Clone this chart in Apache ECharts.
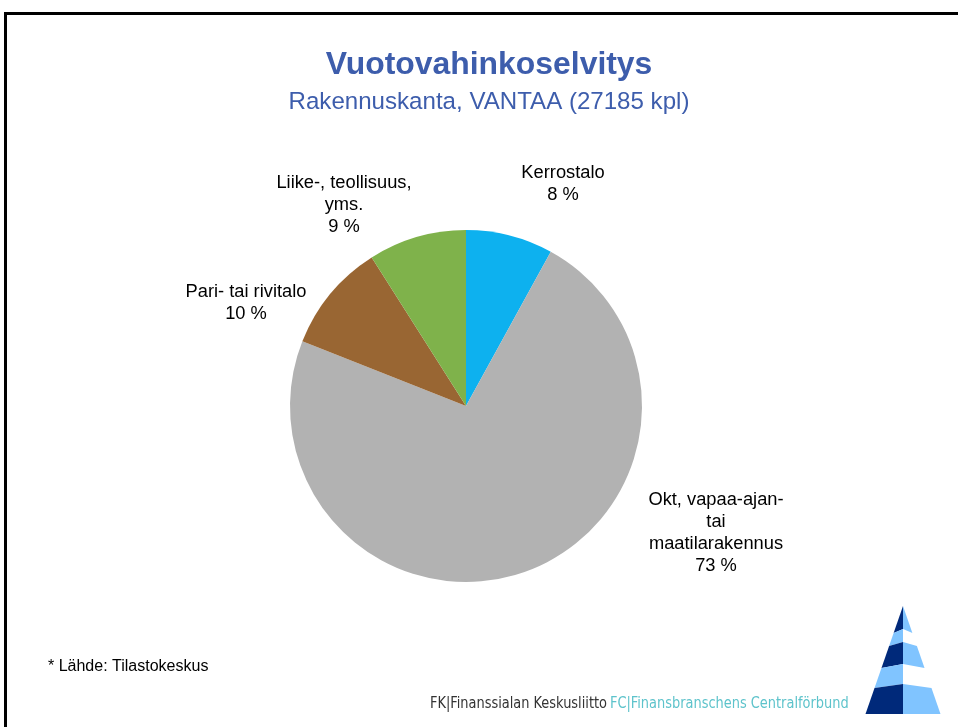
<!DOCTYPE html>
<html>
<head>
<meta charset="utf-8">
<script src="https://cdn.jsdelivr.net/npm/echarts@6/dist/echarts.min.js"></script>
<style>
  html, body { margin: 0; padding: 0; background: #fff; }
  #chart { width: 958px; height: 727px; }
</style>
</head>
<body>
<div id="chart"></div>
<script>
// Building stock by type, Vantaa
const categories = ['Kerrostalo', 'Okt, vapaa-ajan-\ntai\nmaatilarakennus', 'Pari- tai rivitalo', 'Liike-, teollisuus,\nyms.'];
const shares = [8, 73, 10, 9];
const sliceColors = ['#0DB1EF', '#B2B2B2', '#996633', '#7FB24B'];
// label anchor (centre of each label block)
const labelAnchors = [[563, 184], [716, 533], [246, 303], [344, 205]];

const titleText = 'Vuotovahinkoselvitys';
const subtitleText = 'Rakennuskanta, VANTAA (27185 kpl)';
const sourceNote = '* Lähde: Tilastokeskus';

const chart = echarts.init(document.getElementById('chart'), null, { renderer: 'canvas' });

// stylised tree logo: tiers with a dark left half and a light (or missing) right half
const navy = '#00297A', sky = '#80C4FF';
const apex = [903, 606], baseY = 714, halfBase = 37.5;
function edgeX(y, side) {
  return apex[0] + side * halfBase * (y - apex[1]) / (baseY - apex[1]);
}
const tiers = [
  { top: 606, bot: 629, left: navy, right: sky },
  { top: 629, bot: 642, left: sky, right: null },
  { top: 642, bot: 664, left: navy, right: sky },
  { top: 664, bot: 684, left: sky, right: null },
  { top: 684, bot: 714, left: navy, right: sky }
];
const logoParts = [];
tiers.forEach(t => {
  const dt = t.top === apex[1] ? 0 : 4;
  const db = t.bot === baseY ? 0 : 4;
  logoParts.push({
    type: 'polygon', silent: true,
    shape: { points: [[apex[0], t.top], [edgeX(t.top + dt, -1), t.top + dt], [edgeX(t.bot + db, -1), t.bot + db], [apex[0], t.bot]] },
    style: { fill: t.left }
  });
  if (t.right) {
    logoParts.push({
      type: 'polygon', silent: true,
      shape: { points: [[apex[0], t.top], [edgeX(t.top + dt, 1), t.top + dt], [edgeX(t.bot + db, 1), t.bot + db], [apex[0], t.bot]] },
      style: { fill: t.right }
    });
  }
});

const option = {
  backgroundColor: '#ffffff',
  animation: false,
  title: {
    text: titleText,
    subtext: subtitleText,
    left: 484,
    top: 44,
    textAlign: 'center',
    itemGap: 9,
    textStyle: { fontFamily: 'Liberation Sans, Arial, sans-serif', fontSize: 31.9, fontWeight: 'bold', color: '#3D5DAC' },
    subtextStyle: { fontFamily: 'Liberation Sans, Arial, sans-serif', fontSize: 24.1, color: '#3D5DAC' }
  },
  series: [{
    type: 'pie',
    center: [466, 406],
    radius: [0, 176],
    startAngle: 90,
    clockwise: true,
    data: categories.map((name, i) => ({ name, value: shares[i], itemStyle: { color: sliceColors[i] } })),
    label: {
      show: true,
      position: 'outside',
      formatter: p => p.name + '\n' + p.value + ' %',
      fontFamily: 'Liberation Sans, Arial, sans-serif',
      fontSize: 18.3,
      lineHeight: 22,
      color: '#000',
      align: 'center'
    },
    labelLine: { show: false },
    labelLayout: p => ({
      x: labelAnchors[p.dataIndex][0],
      y: labelAnchors[p.dataIndex][1],
      align: 'center',
      verticalAlign: 'middle'
    }),
    emphasis: { disabled: true }
  }],
  graphic: [
    {
      type: 'rect', silent: true,
      shape: { x: 5.5, y: 13.5, width: 1000, height: 1000 },
      style: { fill: 'none', stroke: '#000', lineWidth: 3 }
    },
    {
      type: 'text', silent: true, left: 48, top: 659,
      style: { text: sourceNote, font: '16px "Liberation Sans", Arial, sans-serif', fill: '#000' }
    },
    {
      type: 'text', silent: true, x: 430, y: 704, scaleX: 0.9,
      style: {
        text: '{a|FK|Finanssialan Keskusliitto} {b|FC|Finansbranschens Centralförbund}',
        verticalAlign: 'middle',
        rich: {
          a: { fontFamily: '"DejaVu Sans Condensed", sans-serif', fontSize: 16, fill: '#333333' },
          b: { fontFamily: '"DejaVu Sans Condensed", sans-serif', fontSize: 16, fill: '#5DC3CB' }
        }
      }
    },
    ...logoParts
  ]
};

chart.setOption(option);
</script>
</body>
</html>
